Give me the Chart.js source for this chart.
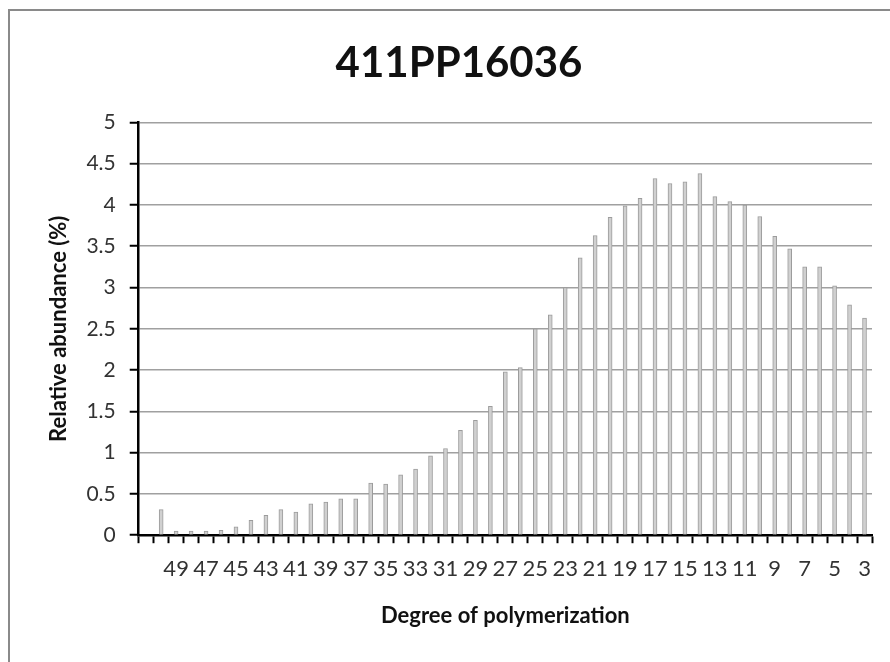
<!DOCTYPE html>
<html>
<head>
<meta charset="utf-8">
<script src="https://cdn.jsdelivr.net/npm/chart.js@4.4.1/dist/chart.umd.min.js"></script>
<style>
  html, body { margin: 0; padding: 0; background: #ffffff; }
  #wrap { position: absolute; left: 0; top: 0; width: 890px; height: 662px; }
  #frame { position: absolute; left: 8px; top: 9px; width: 890px; height: 670px;
           border-left: 2px solid #8a8a8a; border-top: 2px solid #8a8a8a; pointer-events: none; }
</style>
</head>
<body>
<div id="wrap"><canvas id="c" width="890" height="662"></canvas></div>
<div id="frame"></div>
<script>
// Degree of polymerization categories (first slot is empty in the source chart)
const categories = ['', '50', '49', '48', '47', '46', '45', '44', '43', '42', '41', '40', '39', '38', '37', '36', '35', '34', '33', '32', '31', '30', '29', '28', '27', '26', '25', '24', '23', '22', '21', '20', '19', '18', '17', '16', '15', '14', '13', '12', '11', '10', '9', '8', '7', '6', '5', '4', '3'];
// Relative abundance (%)
const abundance = [null, 0.31, 0.05, 0.05, 0.05, 0.06, 0.10, 0.18, 0.24, 0.31, 0.28, 0.38, 0.40, 0.44, 0.44, 0.63, 0.62, 0.73, 0.80, 0.96, 1.05, 1.27, 1.39, 1.56, 1.98, 2.03, 2.50, 2.67, 3.00, 3.36, 3.63, 3.85, 3.99, 4.08, 4.32, 4.26, 4.28, 4.38, 4.10, 4.04, 4.00, 3.86, 3.62, 3.47, 3.25, 3.25, 3.02, 2.79, 2.63];
const yTicks = [0, 0.5, 1, 1.5, 2, 2.5, 3, 3.5, 4, 4.5, 5];
const chartTitle = '411PP16036';
const xTitle = 'Degree of polymerization';
const yTitle = 'Relative abundance (%)';

const FONT = 'Lato, "Open Sans", "Liberation Sans", sans-serif';

new Chart(document.getElementById('c'), {
  type: 'bar',
  data: {
    labels: categories,
    datasets: [{
      data: abundance,
      backgroundColor: '#d0d0d0',
      borderColor: '#9c9c9c',
      borderWidth: 1,
      barThickness: 4
    }]
  },
  options: {
    responsive: false,
    animation: false,
    layout: { padding: { left: 46, right: 18, top: 0, bottom: 33 } },
    plugins: {
      legend: { display: false },
      tooltip: { enabled: false },
      title: {
        display: true,
        text: chartTitle,
        color: '#111111',
        font: { family: FONT, size: 42, weight: 'bold' },
        padding: { top: 38, bottom: 34 }
      }
    },
    scales: {
      x: {
        offset: true,
        border: { display: true, color: '#000000', width: 2.5 },
        grid: { display: true, offset: true, drawOnChartArea: false, drawTicks: true,
                tickLength: 8, tickColor: '#000000', tickWidth: 2 },
        ticks: {
          autoSkip: false, maxRotation: 0, minRotation: 0,
          color: '#333333', padding: 13,
          font: { family: FONT, size: 22 },
          callback: function (v, i) { return i % 2 === 0 ? categories[i] : ''; }
        },
        title: {
          display: true, text: xTitle, color: '#111111',
          font: { family: FONT, size: 22, weight: 'bold' },
          padding: { top: 7, bottom: 0 }
        }
      },
      y: {
        min: 0, max: 5,
        afterBuildTicks: function (axis) { axis.ticks = yTicks.map(v => ({ value: v })); },
        border: { display: true, color: '#000000', width: 2.5 },
        grid: { color: '#a0a0a0', lineWidth: 1.5, drawTicks: true, tickLength: 9,
                tickColor: '#000000', tickWidth: 2 },
        ticks: {
          color: '#333333', padding: 14,
          font: { family: FONT, size: 21 },
          callback: function (v) { return String(v); }
        },
        title: {
          display: true, text: yTitle, color: '#111111',
          font: { family: FONT, size: 22, weight: 'bold' },
          padding: { top: 0, bottom: 0 }
        }
      }
    }
  }
});
</script>
</body>
</html>
